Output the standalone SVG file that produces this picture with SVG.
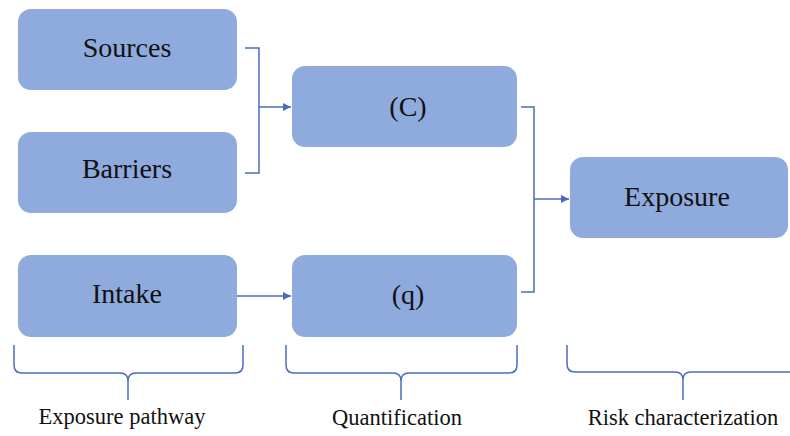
<svg xmlns="http://www.w3.org/2000/svg" width="790" height="436" viewBox="0 0 790 436">
<defs>
<style>
.box{fill:#8faadc;}
.lbl{font-family:"Liberation Serif","Times New Roman",serif;font-size:28px;fill:#111;text-anchor:middle;}
.cap{font-family:"Liberation Serif","Times New Roman",serif;font-size:22.5px;fill:#111;text-anchor:middle;}
.ln{fill:none;stroke:#4a6cc0;stroke-width:1.5;}
</style>
<marker id="ah" viewBox="0 0 10 10" refX="10" refY="5" markerWidth="8" markerHeight="8" markerUnits="userSpaceOnUse" orient="auto">
<path d="M0,0 L10,5 L0,10 z" fill="#4a6cc0"/>
</marker>
</defs>
<rect width="790" height="436" fill="#ffffff"/>
<g id="sources"><rect class="box" x="18" y="9" width="219" height="81" rx="13"/><text class="lbl" x="127" y="57">Sources</text></g>
<g id="barriers"><rect class="box" x="18" y="132" width="219" height="81" rx="13"/><text class="lbl" x="127" y="178">Barriers</text></g>
<g id="intake"><rect class="box" x="18" y="255" width="219" height="82" rx="13"/><text class="lbl" x="127" y="303">Intake</text></g>
<g id="c"><rect class="box" x="292" y="66" width="225" height="81" rx="13"/><text class="lbl" x="408" y="116">(C)</text></g>
<g id="q"><rect class="box" x="292" y="255" width="225" height="82" rx="13"/><text class="lbl" x="408" y="304">(q)</text></g>
<g id="exposure"><rect class="box" x="570" y="157" width="218" height="81" rx="13"/><text class="lbl" x="677" y="206">Exposure</text></g>
<g id="connectors">
<path class="ln" d="M245,48 H259 V173 H245"/>
<path class="ln" d="M259,107 H291" marker-end="url(#ah)"/>
<path class="ln" d="M237,296 H291" marker-end="url(#ah)"/>
<path class="ln" d="M521,107 H534 V292 H521"/>
<path class="ln" d="M534,199 H569" marker-end="url(#ah)"/>
</g>
<g id="braces">
<path class="ln" d="M14,345 V365 Q14,373 22,373 H120 Q128,373 128,381 V400 M128,381 Q128,373 136,373 H235 Q243,373 243,365 V345"/>
<path class="ln" d="M286,345 V365 Q286,373 294,373 H393 Q401,373 401,381 V400 M401,381 Q401,373 409,373 H509 Q517,373 517,365 V345"/>
<path class="ln" d="M567,345 V364 Q567,372 575,372 H675 Q683,372 683,380 V400 M683,380 Q683,372 691,372 H790"/>
</g>
<g id="captions">
<text class="cap" x="122" y="424">Exposure pathway</text>
<text class="cap" x="397" y="425">Quantification</text>
<text class="cap" x="683" y="425">Risk characterization</text>
</g>
</svg>
